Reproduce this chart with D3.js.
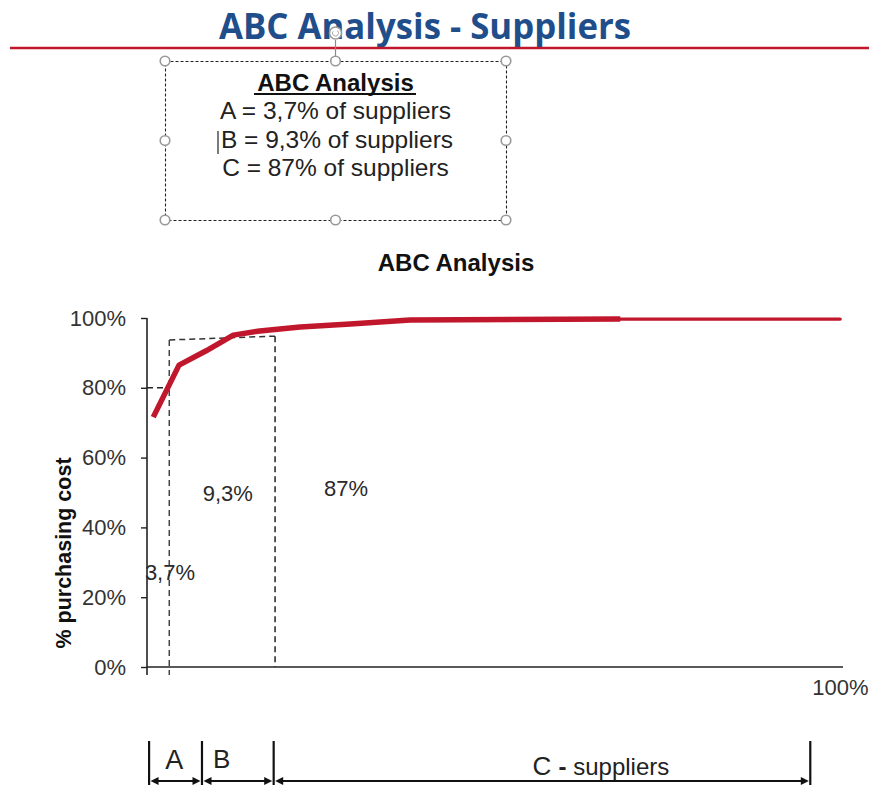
<!DOCTYPE html>
<html>
<head>
<meta charset="utf-8">
<script src="https://cdn.jsdelivr.net/npm/d3@7"></script>
<style>
  body { margin: 0; background: #fff; }
  text { font-family: "Liberation Sans", Arial, sans-serif; }
</style>
</head>
<body>
<svg id="chart" width="869" height="785"></svg>
<script>
// Cumulative share of suppliers (%) against cumulative purchasing cost (%)
const supplierShare = [0.9, 4.6, 8.5, 12.4, 16.2, 22.0, 29.2, 37.8, 68.0, 99.6];
const costShare     = [71.6, 86.5, 90.6, 95.1, 96.3, 97.4, 98.3, 99.4, 99.7, 99.7];
const tailStart = 8; // flat tail of the curve is drawn thinner

const yTickValues = [0, 20, 40, 60, 80, 100];
const xTickValues = [100];

// Class cut-offs on the supplier axis and the cost level they reach
const cutSupplier = [3.2, 18.4];
const cutCost = [93.7, 94.8];
const cutGuideCost = 80;

// Share labels inside the plot
const shareLabels = ["3,7%", "9,3%", "87%"];
const shareLabelX = [3.3, 11.6, 28.6];
const shareLabelY = [24.9, 47.6, 49.0];

// Summary box lines
const summaryTitle = "ABC Analysis";
const summaryLines = ["A = 3,7% of suppliers", "B = 9,3% of suppliers", "C = 87% of suppliers"];

// Bracket stops below the chart (supplier %)
const bracketStops = [0.3, 7.9, 18.2, 95.3];

const svg = d3.select("#chart");
const red = "#c1172c";

// ---- Page heading ----
svg.append("text")
  .attr("x", 425).attr("y", 39)
  .attr("text-anchor", "middle")
  .attr("textLength", 412).attr("lengthAdjust", "spacingAndGlyphs")
  .style("font-family", "'Open Sans', 'Liberation Sans', sans-serif")
  .style("font-weight", "700").style("font-size", "35px")
  .style("fill", "#1f4e8a")
  .text("ABC Analysis - Suppliers");

svg.append("line")
  .attr("x1", 10).attr("x2", 869).attr("y1", 48).attr("y2", 48)
  .attr("stroke", red).attr("stroke-width", 2.6);

// ---- Summary text box ----
const box = { x: 165, y: 61, w: 341, h: 159 };
svg.append("rect")
  .attr("x", box.x + 0.5).attr("y", box.y + 0.5).attr("width", box.w).attr("height", box.h)
  .attr("fill", "none").attr("stroke", "#222").attr("stroke-width", 1.1)
  .attr("stroke-dasharray", "3,2");

const cx = box.x + box.w / 2;
svg.append("text")
  .attr("x", cx).attr("y", 91).attr("text-anchor", "middle")
  .style("font-weight", "700").style("font-size", "24px").style("fill", "#111")
  .text(summaryTitle);
svg.append("line")
  .attr("x1", 254).attr("x2", 416).attr("y1", 94).attr("y2", 94)
  .attr("stroke", "#111").attr("stroke-width", 2);

svg.selectAll("text.summary")
  .data(summaryLines)
  .join("text")
  .attr("class", "summary")
  .attr("x", (d, i) => cx + (i === 1 ? 1.5 : 0))
  .attr("y", (d, i) => 119 + i * 28.5)
  .attr("text-anchor", "middle")
  .style("font-size", "24.5px").style("fill", "#222")
  .text(d => d);

// text cursor
svg.append("line")
  .attr("x1", 218).attr("x2", 218).attr("y1", 131).attr("y2", 154)
  .attr("stroke", "#222").attr("stroke-width", 1.2);

// selection handles
const hx = [box.x, cx, box.x + box.w];
const hy = [box.y, box.y + box.h / 2, box.y + box.h];
const handles = [];
hx.forEach((x, i) => hy.forEach((y, j) => { if (!(i === 1 && j === 1)) handles.push([x, y]); }));
svg.append("line")
  .attr("x1", cx).attr("x2", cx).attr("y1", 40).attr("y2", box.y)
  .attr("stroke", "#8a8a8a").attr("stroke-width", 1.2);
svg.selectAll("circle.handle")
  .data(handles)
  .join("circle")
  .attr("class", "handle")
  .attr("cx", d => d[0]).attr("cy", d => d[1]).attr("r", 4.8)
  .attr("fill", "#fff").attr("stroke", "#999").attr("stroke-width", 1.6);
svg.append("circle")
  .attr("cx", cx).attr("cy", 33).attr("r", 6)
  .attr("fill", "#fff").attr("stroke", "#9a9a9a").attr("stroke-width", 1.6);
svg.append("path")
  .attr("d", d3.arc()({ innerRadius: 2.5, outerRadius: 3.2, startAngle: 0.6, endAngle: 5.4 }))
  .attr("transform", `translate(${cx},33)`)
  .attr("fill", "#9a9a9a");

// ---- Chart ----
svg.append("text")
  .attr("x", 456).attr("y", 271).attr("text-anchor", "middle")
  .style("font-weight", "700").style("font-size", "24px").style("fill", "#111")
  .text("ABC Analysis");

const x = d3.scaleLinear().domain([0, 100]).range([147, 843]);
const y = d3.scaleLinear().domain([0, 100]).range([667, 318]);

// dashed class guides
const dash = "6,4";
const guides = svg.append("g").attr("fill", "none").attr("stroke-dasharray", dash).attr("stroke-width", 1.5);
guides.append("line")
  .attr("x1", x(cutSupplier[0])).attr("x2", x(cutSupplier[0]))
  .attr("y1", y(cutCost[0])).attr("y2", y(0) + 8)
  .attr("stroke", "#444");
guides.append("line")
  .attr("x1", x(cutSupplier[1])).attr("x2", x(cutSupplier[1]))
  .attr("y1", y(cutCost[1])).attr("y2", y(0))
  .attr("stroke", "#222");
guides.append("line")
  .attr("x1", x(cutSupplier[0])).attr("x2", x(cutSupplier[1]))
  .attr("y1", y(cutCost[0])).attr("y2", y(cutCost[1]))
  .attr("stroke", "#333");
guides.append("line")
  .attr("x1", x(0)).attr("x2", x(cutSupplier[0]))
  .attr("y1", y(cutGuideCost)).attr("y2", y(cutGuideCost))
  .attr("stroke", "#222");

// axes
const yAxis = svg.append("g")
  .attr("transform", `translate(${x(0)},0)`)
  .call(d3.axisLeft(y).tickValues(yTickValues).tickFormat(d => d + "%").tickSize(6).tickPadding(15));
yAxis.select(".domain").attr("d", `M0,${y(100)}V${y(0)}`).attr("stroke", "#222").attr("stroke-width", 1.6);
yAxis.selectAll(".tick line").attr("stroke", "#222").attr("stroke-width", 1.4);
yAxis.selectAll(".tick text")
  .style("font-family", "'Liberation Sans', Arial, sans-serif")
  .style("font-size", "22px").style("fill", "#333");

const xAxis = svg.append("g")
  .attr("transform", `translate(0,${y(0)})`)
  .call(d3.axisBottom(x).tickValues(xTickValues).tickFormat(d => d + "%").tickSize(0).tickPadding(12));
xAxis.select(".domain").attr("d", `M${x(0)},0H${x(100)}`).attr("stroke", "#222").attr("stroke-width", 1.6);
xAxis.selectAll(".tick text")
  .attr("dx", -3)
  .style("font-family", "'Liberation Sans', Arial, sans-serif")
  .style("font-size", "22px").style("fill", "#333");
svg.append("line")
  .attr("x1", x(0)).attr("x2", x(0)).attr("y1", y(0)).attr("y2", y(0) + 8)
  .attr("stroke", "#222").attr("stroke-width", 1.6);

svg.append("text")
  .attr("transform", "translate(71,553) rotate(-90)")
  .attr("text-anchor", "middle")
  .style("font-weight", "700").style("font-size", "21.5px").style("fill", "#111")
  .text("% purchasing cost");

// share labels
svg.selectAll("text.share")
  .data(shareLabels)
  .join("text")
  .attr("class", "share")
  .attr("x", (d, i) => x(shareLabelX[i]))
  .attr("y", (d, i) => y(shareLabelY[i]))
  .attr("text-anchor", "middle")
  .style("font-size", "22px").style("fill", "#2a2a2a")
  .text(d => d);

// Pareto curve
const pts = supplierShare.map((s, i) => [s, costShare[i]]);
const line = d3.line().x(d => x(d[0])).y(d => y(d[1]));
svg.append("path")
  .attr("d", line(pts.slice(tailStart)))
  .attr("fill", "none").attr("stroke", red).attr("stroke-width", 3.2).attr("stroke-linecap", "round");
svg.append("path")
  .attr("d", line(pts.slice(0, tailStart + 1)))
  .attr("fill", "none").attr("stroke", red).attr("stroke-width", 5.5)
  .attr("stroke-linejoin", "round").attr("stroke-linecap", "butt");

// ---- Class brackets below the chart ----
const bTop = 741, bBot = 785, arrowY = 781;
const br = svg.append("g");
br.selectAll("line.bar")
  .data(bracketStops)
  .join("line")
  .attr("class", "bar")
  .attr("x1", d => x(d)).attr("x2", d => x(d))
  .attr("y1", bTop).attr("y2", bBot)
  .attr("stroke", "#111").attr("stroke-width", 2.2);

const spans = d3.pairs(bracketStops);
const ah = 8, aw = 4;
spans.forEach(([a, b]) => {
  const xa = x(a) + 1.5, xb = x(b) - 1.5;
  br.append("line")
    .attr("x1", xa + ah - 1).attr("x2", xb - ah + 1).attr("y1", arrowY).attr("y2", arrowY)
    .attr("stroke", "#111").attr("stroke-width", 2);
  br.append("path")
    .attr("d", `M${xa},${arrowY}L${xa + ah},${arrowY - aw}L${xa + ah},${arrowY + aw}Z`)
    .attr("fill", "#111");
  br.append("path")
    .attr("d", `M${xb},${arrowY}L${xb - ah},${arrowY - aw}L${xb - ah},${arrowY + aw}Z`)
    .attr("fill", "#111");
});

br.append("text")
  .attr("x", x(3.9)).attr("y", 769).attr("text-anchor", "middle")
  .style("font-size", "27px").style("fill", "#222").text("A");
br.append("text")
  .attr("x", x(9.5)).attr("y", 768).attr("text-anchor", "start")
  .style("font-size", "26px").style("fill", "#222").text("B");
const cLabel = br.append("text")
  .attr("x", x(55.4)).attr("y", 775).attr("text-anchor", "start")
  .style("fill", "#222");
cLabel.append("tspan").style("font-size", "26px").text("C ");
cLabel.append("tspan").style("font-size", "24px").style("font-weight", "700").text("-");
cLabel.append("tspan").style("font-size", "24px").text(" suppliers");
</script>
</body>
</html>
